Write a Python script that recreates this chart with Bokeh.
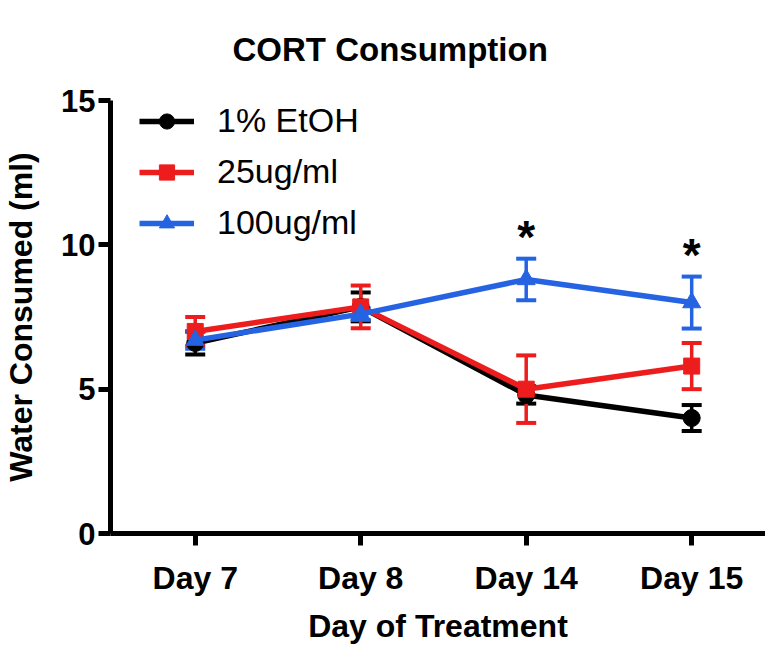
from bokeh.plotting import figure
from bokeh.models import (ColumnDataSource, Range1d, FixedTicker, Legend, LegendItem,
                          Whisker, TeeHead, CustomJSTickFormatter)
from bokeh.core.properties import value
from bokeh.embed import file_html
from bokeh.resources import INLINE

# ---- data ----
days = ["Day 7", "Day 8", "Day 14", "Day 15"]
etoh_mean = [6.6, 7.85, 4.8, 4.0]
etoh_sem = [0.4, 0.5, 0.3, 0.45]
low_mean = [7.0, 7.85, 5.0, 5.8]
low_sem = [0.5, 0.74, 1.17, 0.8]
high_mean = [6.7, 7.6, 8.8, 8.0]
high_sem = [0.3, 0.2, 0.72, 0.9]
sig_days = ["Day 14", "Day 15"]
series_names = ["1% EtOH", "25ug/ml", "100ug/ml"]
y_ticks = [0, 5, 10, 15]
title_text = "CORT Consumption"

FONT = "Liberation Sans"
colors = ["#000000", "#ee1d1d", "#2563e2"]
markers = ["circle", "square", "triangle"]
msizes = [17, 16, 18]

xpos = list(range(len(days)))

p = figure(width=765, height=646, output_backend="svg", toolbar_location=None,
           x_range=Range1d(-0.512, 3.446), y_range=Range1d(0, 15),
           min_border_left=108, min_border_right=0, min_border_top=100,
           min_border_bottom=109, outline_line_color=None)
p.background_fill_color = "white"
p.border_fill_color = "white"
p.grid.visible = False

p.title.text = title_text
p.title.text_font = FONT
p.title.text_font_size = "33px"
p.title.text_font_style = "bold"
p.title.text_color = "black"
p.title.align = "left"
p.title.offset = 122
p.title.vertical_align = "top"
p.title.standoff = 61

for ax in (p.xaxis[0], p.yaxis[0]):
    ax.axis_line_width = 5
    ax.major_tick_line_width = 5
    ax.major_tick_out = 12
    ax.major_tick_in = 0
    ax.minor_tick_line_color = None
    ax.major_label_text_font = FONT
    ax.major_label_text_font_style = "bold"
    ax.major_label_text_font_size = "31px"
    ax.axis_label_text_font = FONT
    ax.axis_label_text_font_style = "bold"
    ax.axis_label_text_font_size = "32px"
    ax.axis_label_text_color = "black"
    ax.major_label_text_color = "black"

p.xaxis.ticker = FixedTicker(ticks=xpos)
p.xaxis.formatter = CustomJSTickFormatter(args=dict(labels=days),
                                          code="return labels[Math.round(tick)] || ''")
p.xaxis.axis_label = "Day of Treatment"
p.xaxis.major_label_standoff = 14
p.xaxis.axis_label_standoff = 9
p.xaxis.major_label_text_font_size = "32px"

p.yaxis.ticker = FixedTicker(ticks=y_ticks)
p.yaxis.axis_label = "Water Consumed (ml)"
p.yaxis.major_label_standoff = 3
p.yaxis.axis_label_standoff = 19

means = [etoh_mean, low_mean, high_mean]
sems = [etoh_sem, low_sem, high_sem]
items = []
for name, m, s, c, mk, ms in zip(series_names, means, sems, colors, markers, msizes):
    src = ColumnDataSource(dict(x=xpos, y=m,
                                lo=[a - b for a, b in zip(m, s)],
                                hi=[a + b for a, b in zip(m, s)]))
    w = Whisker(source=src, base="x", lower="lo", upper="hi", line_color=c, line_width=3.5,
                lower_head=TeeHead(size=20, line_color=c, line_width=4),
                upper_head=TeeHead(size=20, line_color=c, line_width=4))
    p.add_layout(w)
    ln = p.line("x", "y", source=src, line_color=c, line_width=5.5)
    sc = p.scatter("x", "y", source=src, marker=mk, size=ms, fill_color=c, line_color=c)
    items.append(LegendItem(label=name, renderers=[ln, sc]))

# significance stars above the 100ug/ml error bars
sx = [days.index(d) for d in sig_days]
sy = [high_mean[i] + high_sem[i] for i in sx]
p.text(x=sx, y=sy, text=["*"] * len(sx), text_font=value(FONT), text_font_style="bold",
       text_font_size="46px", text_align="center", text_baseline="alphabetic",
       text_color="black", y_offset=-22)

legend = Legend(items=items, location=(29, 291), orientation="vertical",
                border_line_color=None, background_fill_alpha=0,
                label_text_font=FONT, label_text_font_size="34px", label_text_color="black",
                glyph_width=55, glyph_height=38, label_height=38, label_standoff=23,
                spacing=12, padding=0, margin=0)
p.add_layout(legend)

open("out.html", "w").write(file_html(p, INLINE))
